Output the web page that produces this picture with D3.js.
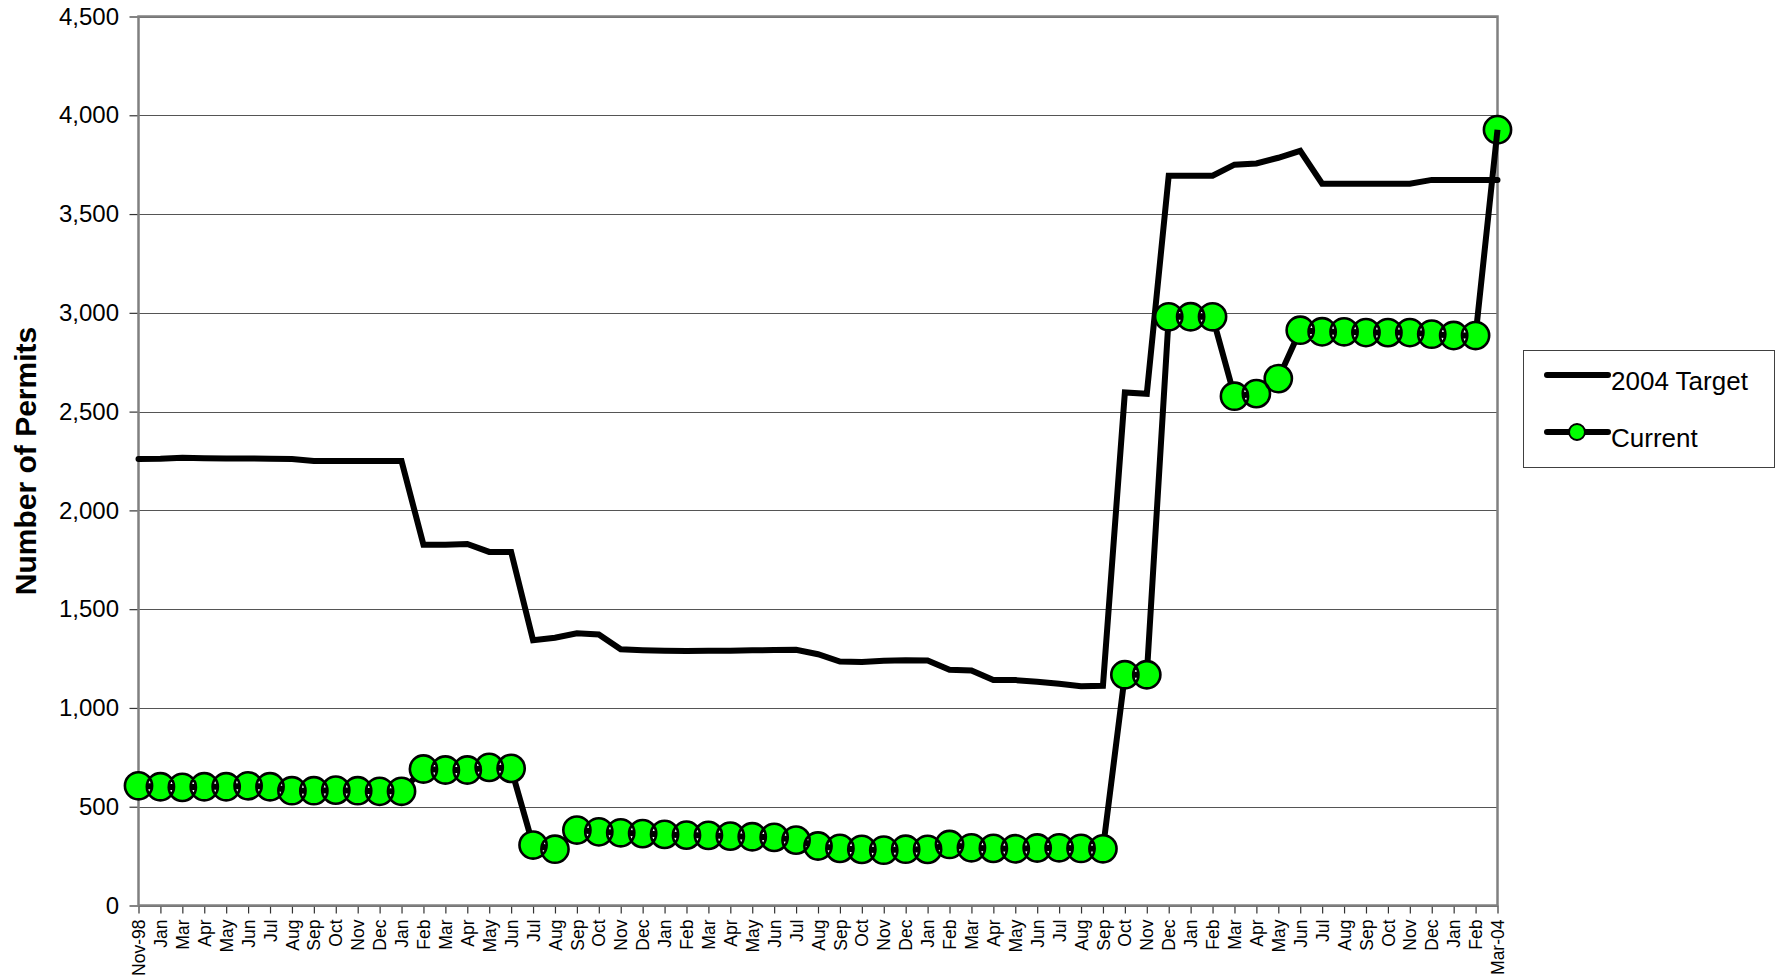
<!doctype html>
<html lang="en">
<head>
<meta charset="utf-8">
<style>
  body { margin: 0; background-color: #fff; }
  svg { display: block; font-family: Arial, "Liberation Sans", sans-serif; }
  .grid line { stroke: #555; stroke-width: 1; shape-rendering: crispEdges; }
  .axis path { display: none; }
  .axis line { stroke: #333; stroke-width: 1.2; }
  .axis text { fill: #000; }
</style>
</head>
<body>
<script src="https://d3js.org/d3.v7.min.js"></script>
<script>
// month labels on the category axis (Nov-98 .. Mar-04, Dec-98 and Feb-99 not reported)
var months = ["Nov-98","Jan","Mar","Apr","May","Jun","Jul","Aug","Sep","Oct","Nov","Dec",
  "Jan","Feb","Mar","Apr","May","Jun","Jul","Aug","Sep","Oct","Nov","Dec",
  "Jan","Feb","Mar","Apr","May","Jun","Jul","Aug","Sep","Oct","Nov","Dec",
  "Jan","Feb","Mar","Apr","May","Jun","Jul","Aug","Sep","Oct","Nov","Dec",
  "Jan","Feb","Mar","Apr","May","Jun","Jul","Aug","Sep","Oct","Nov","Dec",
  "Jan","Feb","Mar-04"];

var target = [2260,2262,2267,2264,2263,2263,2262,2260,2250,2250,2250,2250,
  2250,1826,1826,1830,1790,1790,1343,1355,1378,1372,1297,1292,
  1289,1288,1289,1290,1292,1293,1294,1272,1235,1232,1239,1241,
  1240,1193,1190,1141,1141,1133,1122,1110,1112,2597,2590,3694,
  3694,3694,3750,3756,3785,3820,3654,3654,3654,3654,3654,3673,
  3672,3672,3672];

var current = [606,601,598,601,601,606,601,581,581,584,581,578,
  578,691,686,686,699,694,306,285,382,373,368,364,
  360,356,355,351,348,345,331,301,289,284,280,285,
  284,309,292,289,287,291,292,289,287,1168,1168,2980,
  2980,2980,2578,2591,2667,2912,2904,2904,2900,2900,2900,2892,
  2885,2885,3927];

var yTicks = [0,500,1000,1500,2000,2500,3000,3500,4000,4500];
var seriesNames = ["2004 Target", "Current"];

var width = 1781, height = 980;
var plotL = 138.5, plotR = 1497.5, plotT = 16.5, plotB = 905.5;
var markerR = 13.6;

var svg = d3.select("body").append("svg")
    .attr("width", width)
    .attr("height", height);

var x = d3.scaleLinear().domain([0, months.length - 1]).range([plotL, plotR]);
var y = d3.scaleLinear().domain([0, 4500]).range([plotB, plotT]);

// horizontal gridlines
svg.append("g")
    .attr("class", "grid")
    .selectAll("line")
    .data(yTicks)
    .enter().append("line")
    .attr("x1", plotL).attr("x2", plotR)
    .attr("y1", function(d){ return Math.round(y(d)) + 0.5; })
    .attr("y2", function(d){ return Math.round(y(d)) + 0.5; });

// y axis
var yAxis = svg.append("g")
    .attr("class", "axis")
    .attr("transform", "translate(" + plotL + ",0)")
    .call(d3.axisLeft(y).tickValues(yTicks).tickFormat(d3.format(",")).tickSize(9).tickPadding(10.5));
yAxis.selectAll("text").style("font-size", "24px");

// x axis
var xAxis = svg.append("g")
    .attr("class", "axis")
    .attr("transform", "translate(0," + plotB + ")")
    .call(d3.axisBottom(x).tickValues(d3.range(months.length)).tickFormat(function(i){ return months[i]; }).tickSize(8));
xAxis.selectAll("text")
    .style("font-size", "17.5px")
    .attr("text-anchor", "end")
    .attr("transform", "rotate(-90)")
    .attr("x", -14)
    .attr("y", 0)
    .attr("dy", "0.35em");

// plot frame
svg.append("rect")
    .attr("x", plotL).attr("y", plotT)
    .attr("width", plotR - plotL).attr("height", plotB - plotT)
    .attr("fill", "none")
    .attr("stroke", "#808080")
    .attr("stroke-width", 2.5);

var line = d3.line()
    .x(function(d, i){ return x(i); })
    .y(function(d){ return y(d); });

svg.append("path")
    .datum(target)
    .attr("d", line)
    .attr("fill", "none")
    .attr("stroke", "#000")
    .attr("stroke-width", 6)
    .attr("stroke-linejoin", "miter")
    .attr("stroke-linecap", "round");

svg.append("path")
    .datum(current)
    .attr("d", line)
    .attr("fill", "none")
    .attr("stroke", "#000")
    .attr("stroke-width", 6)
    .attr("stroke-linejoin", "miter")
    .attr("stroke-linecap", "round");

// markers as one evenodd path so overlaps show through like the original
var mp = d3.path();
current.forEach(function(v, i){
  mp.moveTo(x(i) + markerR, y(v));
  mp.arc(x(i), y(v), markerR, 0, 2 * Math.PI);
});
svg.append("path")
    .attr("d", mp.toString())
    .attr("fill", "#00ff00")
    .attr("fill-rule", "evenodd")
    .attr("stroke", "#000")
    .attr("stroke-width", 2.6);

// last segment sits on top of the final marker in the original
var n = current.length;
svg.append("clipPath")
    .attr("id", "lastMarker")
  .append("circle")
    .attr("cx", x(n - 1))
    .attr("cy", y(current[n - 1]))
    .attr("r", markerR);
svg.append("path")
    .datum(current.slice(n - 2))
    .attr("d", d3.line()
        .x(function(d, i){ return x(n - 2 + i); })
        .y(function(d){ return y(d); }))
    .attr("clip-path", "url(#lastMarker)")
    .attr("fill", "none")
    .attr("stroke", "#000")
    .attr("stroke-width", 6);

// y title
svg.append("text")
    .attr("transform", "translate(36," + ((plotT + plotB) / 2) + ") rotate(-90)")
    .attr("text-anchor", "middle")
    .style("font-size", "30px")
    .style("font-weight", "bold")
    .text("Number of Permits");

// legend
var lg = svg.append("g");
lg.append("rect")
    .attr("x", 1523.5).attr("y", 350.5)
    .attr("width", 251).attr("height", 117)
    .attr("fill", "#fff")
    .attr("stroke", "#404040")
    .attr("stroke-width", 1);

var rows = lg.selectAll(".row")
    .data(seriesNames)
    .enter().append("g")
    .attr("class", "row")
    .attr("transform", function(d, i){ return "translate(0," + (375 + i * 57) + ")"; });

rows.append("line")
    .attr("x1", 1547).attr("x2", 1608)
    .attr("y1", 0).attr("y2", 0)
    .attr("stroke", "#000")
    .attr("stroke-width", 6)
    .attr("stroke-linecap", "round");

rows.filter(function(d, i){ return i === 1; })
    .append("circle")
    .attr("cx", 1577).attr("cy", 0)
    .attr("r", 8)
    .attr("fill", "#00ff00")
    .attr("stroke", "#000")
    .attr("stroke-width", 2);

rows.append("text")
    .attr("x", 1611)
    .attr("y", 15)
    .style("font-size", "26px")
    .text(function(d){ return d; });
</script>
</body>
</html>
